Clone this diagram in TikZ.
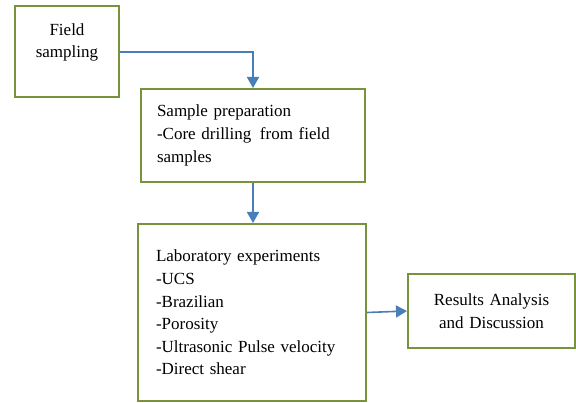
\documentclass[tikz,border=0pt]{standalone}
\usepackage{fontspec}
\setmainfont{Liberation Serif}
\usetikzlibrary{arrows.meta}
\definecolor{boxgreen}{HTML}{77933C}
\definecolor{arrowblue}{HTML}{4A7EBB}
\begin{document}
\begin{tikzpicture}[x=1pt,y=-1pt,
  stagebox/.style={draw=boxgreen, line width=2pt, fill=white, inner ysep=0pt,
    font=\fontsize{17}{22.6}\selectfont},
  flow/.style={draw=arrowblue, line width=1.6pt, -{Triangle[length=11pt,width=12pt]}}]
\useasboundingbox (0,0) rectangle (576,403);
\node[stagebox, minimum width=104pt, minimum height=91pt, inner xsep=4pt,
  text width=96pt, align=center] (b1) at (67,52) {Field\\sampling\\\mbox{}};
\node[stagebox, minimum width=224pt, minimum height=93pt, inner xsep=16pt,
  text width=192pt, align=left] (b2) at (253,135.5)
  {Sample preparation\\-Core drilling\, from field\\samples};
\node[stagebox, minimum width=228pt, minimum height=177pt, inner xsep=18pt,
  text width=192pt, align=left] (b3) at (252,312.5)
  {Laboratory experiments\\-UCS\\-Brazilian\\-Porosity\\-Ultrasonic Pulse velocity\\-Direct shear};
\node[stagebox, minimum width=167pt, minimum height=74pt, inner xsep=4pt,
  text width=159pt, align=center] (b4) at (491.5,311)
  {Results Analysis\\and Discussion};
\draw[flow] (b1.east) -| (b2.north);
\draw[flow] (b2.south) -- (b2.south |- b3.north);
\draw[flow] (b3.east) -- (b4.west);
\end{tikzpicture}
\end{document}
